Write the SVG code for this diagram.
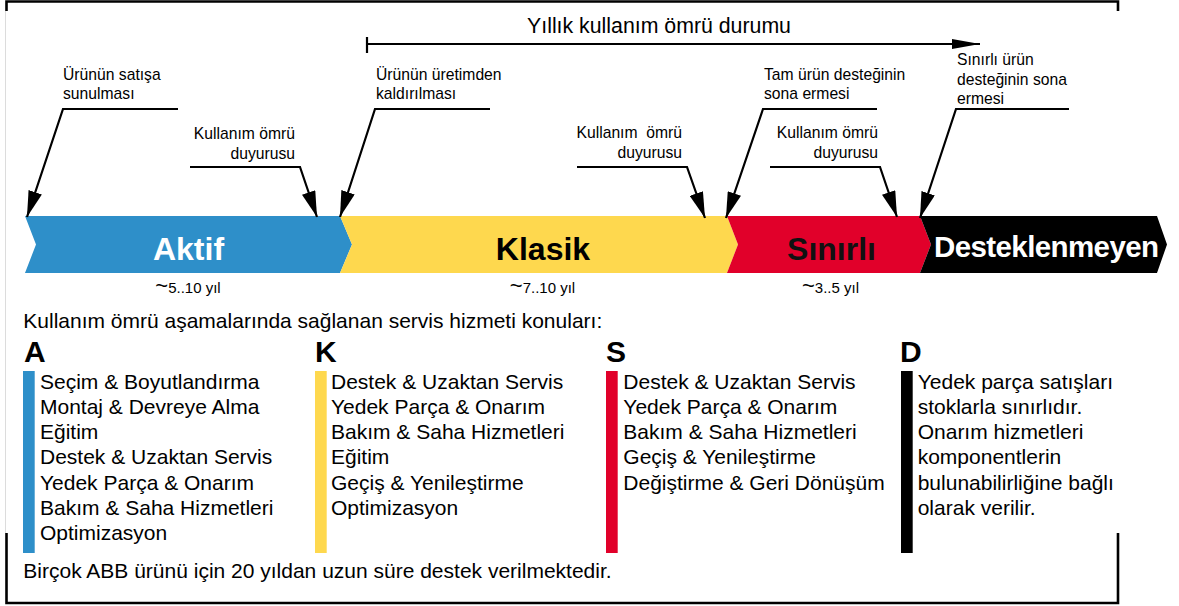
<svg xmlns="http://www.w3.org/2000/svg" width="1179" height="606" viewBox="0 0 1179 606">
<style>
text{font-family:"Liberation Sans",Arial,Helvetica,sans-serif;fill:#000}
.cl{font-size:15.7px}
.body{font-size:21px}
.big{font-size:32px;font-weight:bold}
.let{font-size:30px;font-weight:bold}
.yr{font-size:15px}
.tl{font-size:22px}
.ld{fill:none;stroke:#000;stroke-width:2.2}
.frame{fill:none;stroke:#000;stroke-width:2.6}
</style>
<defs>
<marker id="ah" markerUnits="userSpaceOnUse" markerWidth="26" markerHeight="14" viewBox="0 0 26 14" refX="26" refY="7" orient="auto"><path d="M0,0 L26,7 L0,14 Z" fill="#000"/></marker>
<marker id="aht" markerUnits="userSpaceOnUse" markerWidth="28" markerHeight="10" viewBox="0 0 28 10" refX="28" refY="5" orient="auto"><path d="M0,0 L28,5 L0,10 Z" fill="#000"/></marker>
</defs>
<rect width="1179" height="606" fill="#fff"/>
<g id="frame">
<path class="frame" d="M6.5,11 V1.5 H1118 V11"/>
<path class="frame" d="M6.5,533 V603 H1118 V533"/>
<line x1="5.5" y1="11" x2="5.5" y2="533" stroke="#dcdcdc" stroke-width="1"/>
</g>
<g id="lifecycle-span">
<line class="ld" x1="367" y1="37" x2="367" y2="53"/>
<line class="ld" x1="367" y1="44" x2="980" y2="44" marker-end="url(#aht)"/>
<text x="659" y="33" text-anchor="middle" style="font-size:21.3px">Yıllık kullanım ömrü durumu</text>
</g>
<g id="phase-aktif">
<path d="M25,216 L340,216 L352,244.5 L340,273 L25,273 L36,244.5 Z" fill="#2e8fc9"/>
<text class="big" x="188.5" y="260" text-anchor="middle" style="fill:#fff">Aktif</text>
<text class="yr" x="188" y="293" text-anchor="middle"><tspan class="tl">~</tspan>5..10 yıl</text>
</g>
<g id="phase-klasik">
<path d="M340,216 L727,216 L738,244.5 L727,273 L340,273 L352,244.5 Z" fill="#fed84e"/>
<text class="big" x="543" y="260" text-anchor="middle">Klasik</text>
<text class="yr" x="542.5" y="293" text-anchor="middle"><tspan class="tl">~</tspan>7..10 yıl</text>
</g>
<g id="phase-sinirli">
<path d="M727,216 L920,216 L931,244.5 L920,273 L727,273 L738,244.5 Z" fill="#e1002a"/>
<text class="big" x="831.5" y="260" text-anchor="middle" style="fill:#111">Sınırlı</text>
<text class="yr" x="830.5" y="293" text-anchor="middle"><tspan class="tl">~</tspan>3..5 yıl</text>
</g>
<g id="phase-desteklenmeyen">
<path d="M920,216 L1157,216 L1167,244.5 L1157,273 L920,273 L931,244.5 Z" fill="#000"/>
<text x="934" y="257" style="fill:#fff;font-size:29.5px;font-weight:bold;letter-spacing:-0.6px">Desteklenmeyen</text>
</g>
<g id="callout-labels">
<text class="cl" x="63" y="80">Ürünün satışa</text>
<text class="cl" x="63" y="99">sunulması</text>
<text class="cl" x="295" y="139" text-anchor="end">Kullanım ömrü</text>
<text class="cl" x="295" y="158.5" text-anchor="end">duyurusu</text>
<text class="cl" x="376" y="80">Ürünün üretimden</text>
<text class="cl" x="376" y="99">kaldırılması</text>
<text class="cl" x="682" y="138" text-anchor="end" xml:space="preserve">Kullanım  ömrü</text>
<text class="cl" x="682" y="157.5" text-anchor="end">duyurusu</text>
<text class="cl" x="764" y="79.5">Tam ürün desteğinin</text>
<text class="cl" x="764" y="99">sona ermesi</text>
<text class="cl" x="878" y="138" text-anchor="end">Kullanım ömrü</text>
<text class="cl" x="878" y="157.5" text-anchor="end">duyurusu</text>
<text class="cl" x="957" y="65">Sınırlı ürün</text>
<text class="cl" x="957" y="85">desteğinin sona</text>
<text class="cl" x="957" y="104">ermesi</text>
</g>
<g id="connectors">
<path class="ld" d="M178,109 H63 L27,217" marker-end="url(#ah)"/>
<path class="ld" d="M190,167 H300 L317,217" marker-end="url(#ah)"/>
<path class="ld" d="M490,109 H375 L340,217" marker-end="url(#ah)"/>
<path class="ld" d="M577,167 H687 L705,218" marker-end="url(#ah)"/>
<path class="ld" d="M877,109 H763 L726,218" marker-end="url(#ah)"/>
<path class="ld" d="M770,167 H880 L897,217" marker-end="url(#ah)"/>
<path class="ld" d="M1069,109 H956 L920,218" marker-end="url(#ah)"/>
</g>
<g id="services-header">
<text class="body" x="23.3" y="328">Kullanım ömrü aşamalarında sağlanan servis hizmeti konuları:</text>
</g>
<g id="services-A">
<text class="let" x="24" y="361.5">A</text>
<rect x="23" y="371" width="11.7" height="182" fill="#2e8fc9"/>
<text class="body" x="40" y="388.5">Seçim &amp; Boyutlandırma</text>
<text class="body" x="40" y="413.8">Montaj &amp; Devreye Alma</text>
<text class="body" x="40" y="439.1">Eğitim</text>
<text class="body" x="40" y="464.4">Destek &amp; Uzaktan Servis</text>
<text class="body" x="40" y="489.7">Yedek Parça &amp; Onarım</text>
<text class="body" x="40" y="515">Bakım &amp; Saha Hizmetleri</text>
<text class="body" x="40" y="540.3">Optimizasyon</text>
</g>
<g id="services-K">
<text class="let" x="315" y="361.5">K</text>
<rect x="315" y="371" width="11.7" height="182" fill="#fed84e"/>
<text class="body" x="331" y="388.5">Destek &amp; Uzaktan Servis</text>
<text class="body" x="331" y="413.8">Yedek Parça &amp; Onarım</text>
<text class="body" x="331" y="439.1">Bakım &amp; Saha Hizmetleri</text>
<text class="body" x="331" y="464.4">Eğitim</text>
<text class="body" x="331" y="489.7">Geçiş &amp; Yenileştirme</text>
<text class="body" x="331" y="515">Optimizasyon</text>
</g>
<g id="services-S">
<text class="let" x="606" y="361.5">S</text>
<rect x="606" y="371" width="11.7" height="182" fill="#e1002a"/>
<text class="body" x="623.3" y="388.5">Destek &amp; Uzaktan Servis</text>
<text class="body" x="623.3" y="413.8">Yedek Parça &amp; Onarım</text>
<text class="body" x="623.3" y="439.1">Bakım &amp; Saha Hizmetleri</text>
<text class="body" x="623.3" y="464.4">Geçiş &amp; Yenileştirme</text>
<text class="body" x="623.3" y="489.7">Değiştirme &amp; Geri Dönüşüm</text>
</g>
<g id="services-D">
<text class="let" x="900" y="361.5">D</text>
<rect x="901" y="371" width="11.7" height="182" fill="#000"/>
<text class="body" x="917.7" y="388.5">Yedek parça satışları</text>
<text class="body" x="917.7" y="413.8">stoklarla sınırlıdır.</text>
<text class="body" x="917.7" y="439.1">Onarım hizmetleri</text>
<text class="body" x="917.7" y="464.4">komponentlerin</text>
<text class="body" x="917.7" y="489.7">bulunabilirliğine bağlı</text>
<text class="body" x="917.7" y="515">olarak verilir.</text>
</g>
<g id="footer">
<text class="body" x="23.3" y="578">Birçok ABB ürünü için 20 yıldan uzun süre destek verilmektedir.</text>
</g>
</svg>
